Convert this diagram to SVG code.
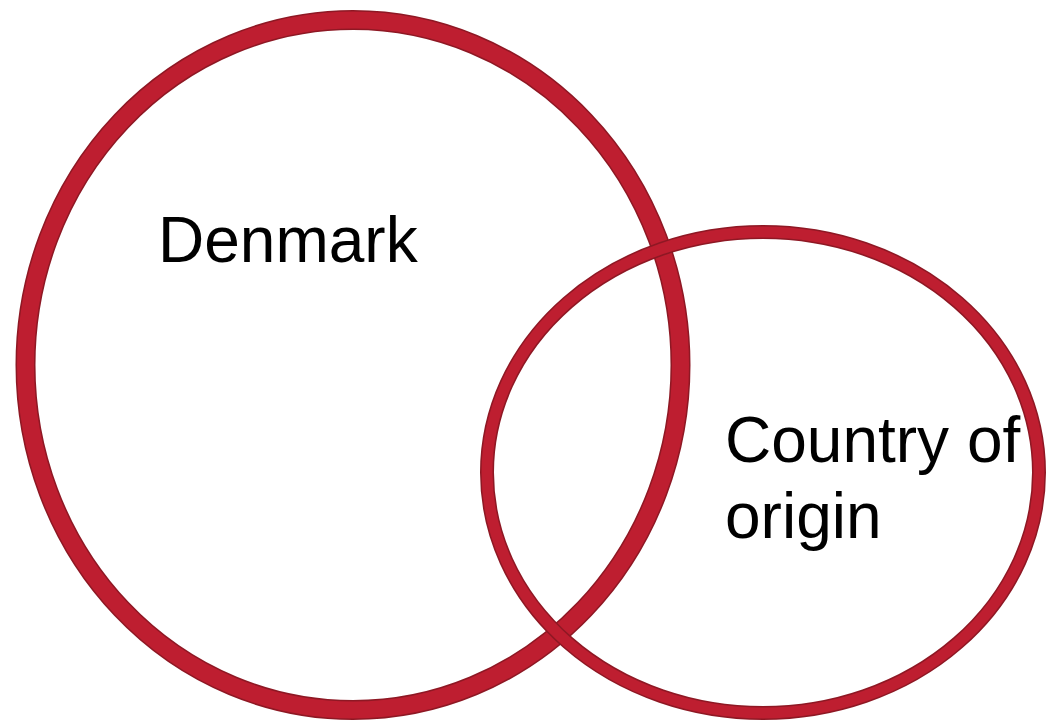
<svg xmlns="http://www.w3.org/2000/svg" width="1046" height="721" viewBox="0 0 1046 721">
<style>
.edge{fill:none;stroke:#8e1824}
.ring{fill:none;stroke:#be1e30}
.lbl{font-family:"Liberation Sans",Arial,sans-serif;font-size:64px;fill:#000}
</style>
<rect width="1046" height="721" fill="#fff"/>
<g id="denmark">
<ellipse class="edge" cx="353" cy="365" rx="327.5" ry="345" stroke-width="20"/>
<ellipse class="ring" cx="353" cy="365" rx="327.5" ry="345" stroke-width="17"/>
</g>
<g id="origin">
<ellipse class="edge" cx="763" cy="472.5" rx="276" ry="240.5" stroke-width="14"/>
<ellipse class="ring" cx="763" cy="472.5" rx="276" ry="240.5" stroke-width="11"/>
</g>
<g id="labels">
<text class="lbl" x="158" y="262">Denmark</text>
<text class="lbl" x="725" y="462">Country of</text>
<text class="lbl" x="725" y="538">origin</text>
</g>
<g id="connectors"/>
</svg>
